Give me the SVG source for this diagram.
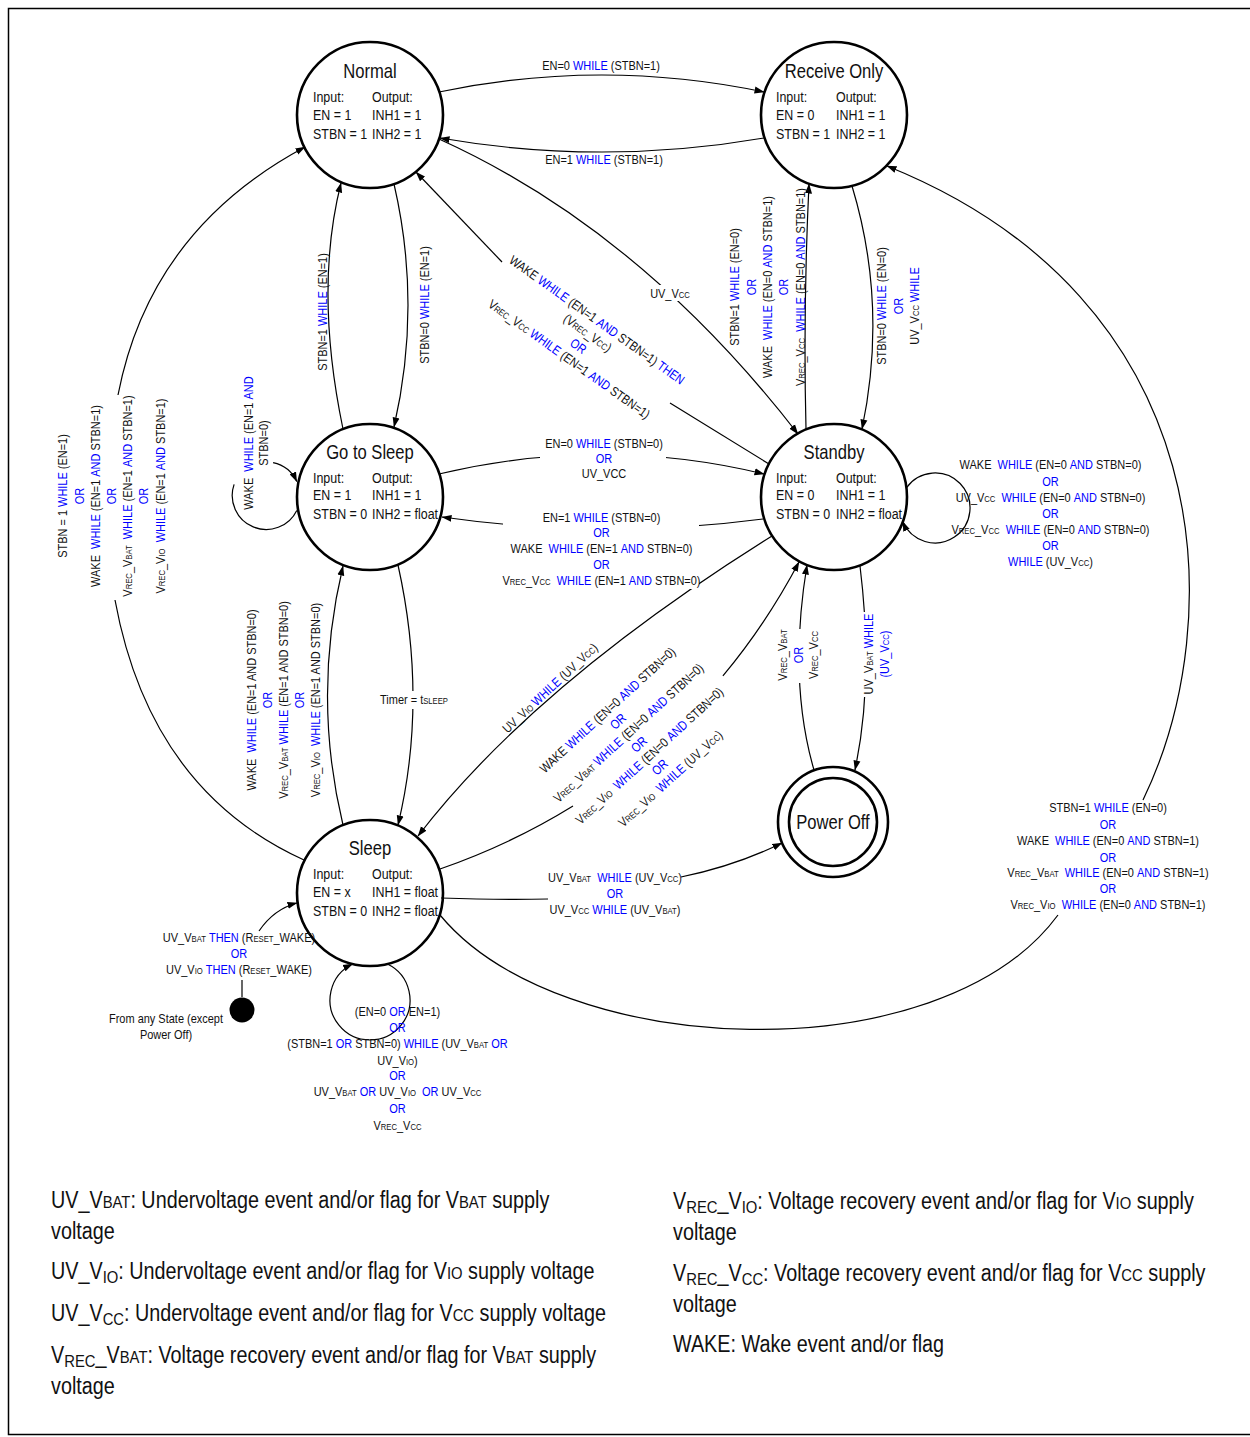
<svg xmlns="http://www.w3.org/2000/svg" width="1250" height="1437" viewBox="0 0 1250 1437">
<style>
text{font-family:"Liberation Sans Narrow","Liberation Sans",Arial,sans-serif;fill:#111}
.l{font-size:13px;text-anchor:middle}
.b{fill:#0000ff}
.s{font-size:0.7em}
.s2{font-size:0.75em}
.n{font-size:15px}
.h{font-size:20px;text-anchor:middle}
.g{font-size:23px}
.st{fill:#fff;stroke:#000;stroke-width:2.6}
.c{fill:none;stroke:#000;stroke-width:1.2}
.w{fill:#fff}
</style>
<defs>
<marker id="a" markerWidth="10" markerHeight="8" refX="9.5" refY="4" orient="auto" markerUnits="userSpaceOnUse"><path d="M0,0.5 L10,4 L0,7.5z" fill="#000"/></marker>
</defs>
<rect x="8.5" y="8.5" width="1300" height="1426" fill="#fff" stroke="#000" stroke-width="1.5"/>

<g id="node-normal">
<circle class="st" cx="370" cy="115" r="73"/>
<text class="h" transform="matrix(.83 0 0 1 370 78)">Normal</text>
<text class="n" transform="matrix(.83 0 0 1 313 102)">Input:</text><text class="n" transform="matrix(.83 0 0 1 372 102)">Output:</text>
<text class="n" transform="matrix(.83 0 0 1 313 120)">EN = 1</text><text class="n" transform="matrix(.83 0 0 1 372 120)">INH1 = 1</text>
<text class="n" transform="matrix(.83 0 0 1 313 139)">STBN = 1</text><text class="n" transform="matrix(.83 0 0 1 372 139)">INH2 = 1</text>
</g>
<g id="node-receive-only">
<circle class="st" cx="834" cy="115" r="73"/>
<text class="h" transform="matrix(.83 0 0 1 834 78)">Receive Only</text>
<text class="n" transform="matrix(.83 0 0 1 776 102)">Input:</text><text class="n" transform="matrix(.83 0 0 1 836 102)">Output:</text>
<text class="n" transform="matrix(.83 0 0 1 776 120)">EN = 0</text><text class="n" transform="matrix(.83 0 0 1 836 120)">INH1 = 1</text>
<text class="n" transform="matrix(.83 0 0 1 776 139)">STBN = 1</text><text class="n" transform="matrix(.83 0 0 1 836 139)">INH2 = 1</text>
</g>
<g id="node-go-to-sleep">
<circle class="st" cx="370" cy="497" r="73"/>
<text class="h" transform="matrix(.83 0 0 1 370 459)">Go to Sleep</text>
<text class="n" transform="matrix(.83 0 0 1 313 483)">Input:</text><text class="n" transform="matrix(.83 0 0 1 372 483)">Output:</text>
<text class="n" transform="matrix(.83 0 0 1 313 500)">EN = 1</text><text class="n" transform="matrix(.83 0 0 1 372 500)">INH1 = 1</text>
<text class="n" transform="matrix(.83 0 0 1 313 519)">STBN = 0</text><text class="n" transform="matrix(.83 0 0 1 372 519)">INH2 = float</text>
</g>
<g id="node-standby">
<circle class="st" cx="834" cy="497" r="73"/>
<text class="h" transform="matrix(.83 0 0 1 834 459)">Standby</text>
<text class="n" transform="matrix(.83 0 0 1 776 483)">Input:</text><text class="n" transform="matrix(.83 0 0 1 836 483)">Output:</text>
<text class="n" transform="matrix(.83 0 0 1 776 500)">EN = 0</text><text class="n" transform="matrix(.83 0 0 1 836 500)">INH1 = 1</text>
<text class="n" transform="matrix(.83 0 0 1 776 519)">STBN = 0</text><text class="n" transform="matrix(.83 0 0 1 836 519)">INH2 = float</text>
</g>
<g id="node-sleep">
<circle class="st" cx="370" cy="893" r="73"/>
<text class="h" transform="matrix(.83 0 0 1 370 855)">Sleep</text>
<text class="n" transform="matrix(.83 0 0 1 313 879)">Input:</text><text class="n" transform="matrix(.83 0 0 1 372 879)">Output:</text>
<text class="n" transform="matrix(.83 0 0 1 313 897)">EN = x</text><text class="n" transform="matrix(.83 0 0 1 372 897)">INH1 = float</text>
<text class="n" transform="matrix(.83 0 0 1 313 916)">STBN = 0</text><text class="n" transform="matrix(.83 0 0 1 372 916)">INH2 = float</text>
</g>
<g id="node-power-off">
<circle class="st" cx="833" cy="822" r="55"/>
<circle class="st" cx="833" cy="822" r="44"/>
<text class="h" transform="matrix(.83 0 0 1 833 829)">Power Off</text>
</g>
<g id="node-initial">
<circle cx="242" cy="1010" r="12.5" fill="#000"/>
<text class="l" transform="matrix(.845 0 0 1 166 1022.5)">From any State (except</text>
<text class="l" transform="matrix(.845 0 0 1 166 1038.5)">Power Off)</text>
</g>

<g id="connectors" class="c">
<path d="M439,92 Q602,58 764,92" marker-end="url(#a)"/>
<path d="M764,138 Q602,166 440,138" marker-end="url(#a)"/>
<path d="M343,429 Q314,290 341,183" marker-end="url(#a)"/>
<path d="M394,184 Q422,305 394,427" marker-end="url(#a)"/>
<path d="M769,464 L670,403"/>
<path d="M502,262 L416,172" marker-end="url(#a)"/>
<path d="M439,139 Q640,230 798,434" marker-end="url(#a)"/>
<path d="M806,429 Q803,310 809,184" marker-end="url(#a)"/>
<path d="M852,186 Q888,305 862,429" marker-end="url(#a)"/>
<path d="M439,474 Q603,435 764,474" marker-end="url(#a)"/>
<path d="M763,519 Q603,540 442,517" marker-end="url(#a)"/>
<path d="M304,860 Q150,790 115,600"/>
<path d="M118,395 Q150,230 305,147" marker-end="url(#a)"/>
<path d="M440,915 C560,1060 940,1075 1058,915"/>
<path d="M1143,800 C1230,620 1220,300 887,166" marker-end="url(#a)"/>
<path d="M343,825 Q312,696 343,566" marker-end="url(#a)"/>
<path d="M398,565 Q428,700 398,825" marker-end="url(#a)"/>
<path d="M772,536 Q535,684 418,836" marker-end="url(#a)"/>
<path d="M440,869 Q512,843.8 573,806"/>
<path d="M722.9,675.9 Q766.4,623.7 799,562" marker-end="url(#a)"/>
<path d="M860,566 Q874,680 855,770" marker-end="url(#a)"/>
<path d="M814,770 Q788,680 807,565" marker-end="url(#a)"/>
<path d="M441,898 Q500,900 548,899"/>
<path d="M681,877 Q735,866 782,843" marker-end="url(#a)"/>
<path d="M296.8,510.4 A34,34 0 0 1 234.1,484.4"/>
<path d="M273.1,462.7 A34,34 0 0 1 296.8,481.6" marker-end="url(#a)"/>
<path d="M906.4,487.8 A35,35 0 1 1 902.8,521.6" marker-end="url(#a)"/>
<path d="M387.4,964 A40,40 0 1 1 352.6,964" marker-end="url(#a)"/>
<path d="M259,931 Q274,909 297,903" marker-end="url(#a)"/>
<path d="M242,997 L242,980"/>
</g>

<g id="labels">
<text class="l" transform="matrix(.845 0 0 1 601 70)">EN=0 <tspan class="b">WHILE</tspan> (STBN=1)</text>
<text class="l" transform="matrix(.845 0 0 1 604 164)">EN=1 <tspan class="b">WHILE</tspan> (STBN=1)</text>
<g transform="translate(322,312) rotate(-90) scale(.845,1)"><text class="l" y="4.5">STBN=1 <tspan class="b">WHILE</tspan> (EN=1)</text></g>
<g transform="translate(424,305) rotate(-90) scale(.845,1)"><text class="l" y="4.5">STBN=0 <tspan class="b">WHILE</tspan> (EN=1)</text></g>
<g transform="translate(597,320) rotate(35.5) scale(.845,1)">
<text class="l" y="4.5">WAKE <tspan class="b">WHILE</tspan> (EN=1 <tspan class="b">AND</tspan> STBN=1) <tspan class="b">THEN</tspan></text>
<text class="l" y="20.5">(V<tspan class="s">REC</tspan>_V<tspan class="s">CC</tspan>)</text>
<text class="l b" y="36.5">OR</text>
<text class="l" y="52.5">V<tspan class="s">REC</tspan>_V<tspan class="s">CC</tspan> <tspan class="b">WHILE</tspan> (EN=1 <tspan class="b">AND</tspan> STBN=1)</text>
</g>
<rect class="w" x="652" y="285" width="37" height="16"/>
<text class="l" transform="matrix(.845 0 0 1 670 297.5)">UV_V<tspan class="s">CC</tspan></text>
<g transform="translate(767.5,287) rotate(-90) scale(.845,1)">
<text class="l" y="-28.1">STBN=1 <tspan class="b">WHILE</tspan> (EN=0)</text>
<text class="l b" y="-11.8">OR</text>
<text class="l" y="4.5">WAKE&#160; <tspan class="b">WHILE</tspan> (EN=0 <tspan class="b">AND</tspan> STBN=1)</text>
<text class="l b" y="20.8">OR</text>
<text class="l" y="37.1">V<tspan class="s">REC</tspan>_V<tspan class="s">CC</tspan>&#160; <tspan class="b">WHILE</tspan> (EN=0 <tspan class="b">AND</tspan> STBN=1)</text>
</g>
<g transform="translate(898,306) rotate(-90) scale(.845,1)">
<text class="l" y="-12">STBN=0 <tspan class="b">WHILE</tspan> (EN=0)</text>
<text class="l b" y="4.5">OR</text>
<text class="l" y="21">UV_V<tspan class="s">CC</tspan> <tspan class="b">WHILE</tspan></text>
</g>
<rect class="w" x="540" y="434" width="126" height="48"/>
<text class="l" transform="matrix(.845 0 0 1 604 447.5)">EN=0 <tspan class="b">WHILE</tspan> (STBN=0)</text>
<text class="l b" transform="matrix(.845 0 0 1 604 462.5)">OR</text>
<text class="l" transform="matrix(.845 0 0 1 604 477.5)">UV_VCC</text>
<rect class="w" x="503" y="508" width="196" height="81"/>
<text class="l" transform="matrix(.845 0 0 1 601.5 521.5)">EN=1 <tspan class="b">WHILE</tspan> (STBN=0)</text>
<text class="l b" transform="matrix(.845 0 0 1 601.5 536.5)">OR</text>
<text class="l" transform="matrix(.845 0 0 1 601.5 552.5)">WAKE&#160; <tspan class="b">WHILE</tspan> (EN=1 <tspan class="b">AND</tspan> STBN=0)</text>
<text class="l b" transform="matrix(.845 0 0 1 601.5 568.5)">OR</text>
<text class="l" transform="matrix(.845 0 0 1 601.5 584.5)">V<tspan class="s">REC</tspan>_V<tspan class="s">CC</tspan>&#160; <tspan class="b">WHILE</tspan> (EN=1 <tspan class="b">AND</tspan> STBN=0)</text>
<text class="l" transform="matrix(.845 0 0 1 1050.5 469)">WAKE&#160; <tspan class="b">WHILE</tspan> (EN=0 <tspan class="b">AND</tspan> STBN=0)</text>
<text class="l b" transform="matrix(.845 0 0 1 1050.5 485.5)">OR</text>
<text class="l" transform="matrix(.845 0 0 1 1050.5 502)">UV_V<tspan class="s">CC</tspan>&#160; <tspan class="b">WHILE</tspan> (EN=0 <tspan class="b">AND</tspan> STBN=0)</text>
<text class="l b" transform="matrix(.845 0 0 1 1050.5 517.5)">OR</text>
<text class="l" transform="matrix(.845 0 0 1 1050.5 533.5)">V<tspan class="s">REC</tspan>_V<tspan class="s">CC</tspan>&#160; <tspan class="b">WHILE</tspan> (EN=0 <tspan class="b">AND</tspan> STBN=0)</text>
<text class="l b" transform="matrix(.845 0 0 1 1050.5 549.5)">OR</text>
<text class="l" transform="matrix(.845 0 0 1 1050.5 565.5)"><tspan class="b">WHILE</tspan> (UV_V<tspan class="s">CC</tspan>)</text>
<g transform="translate(111.5,496) rotate(-90) scale(.845,1)">
<text class="l" y="-44.1">STBN = 1 <tspan class="b">WHILE</tspan> (EN=1)</text>
<text class="l b" y="-27.9">OR</text>
<text class="l" y="-11.7">WAKE&#160; <tspan class="b">WHILE</tspan> (EN=1 <tspan class="b">AND</tspan> STBN=1)</text>
<text class="l b" y="4.5">OR</text>
<text class="l" y="20.7">V<tspan class="s">REC</tspan>_V<tspan class="s">BAT</tspan>&#160; <tspan class="b">WHILE</tspan> (EN=1 <tspan class="b">AND</tspan> STBN=1)</text>
<text class="l b" y="36.9">OR</text>
<text class="l" y="53.1">V<tspan class="s">REC</tspan>_V<tspan class="s">IO</tspan>&#160; <tspan class="b">WHILE</tspan> (EN=1 <tspan class="b">AND</tspan> STBN=1)</text>
</g>
<g transform="translate(256,443) rotate(-90) scale(.845,1)">
<text class="l" y="-3.25">WAKE&#160; <tspan class="b">WHILE</tspan> (EN=1 <tspan class="b">AND</tspan></text>
<text class="l" y="12.25">STBN=0)</text>
</g>
<g transform="translate(283.5,700) rotate(-90) scale(.845,1)">
<text class="l" y="-28">WAKE&#160; <tspan class="b">WHILE</tspan> (EN=1 AND STBN=0)</text>
<text class="l b" y="-11.75">OR</text>
<text class="l" y="4.5">V<tspan class="s">REC</tspan>_V<tspan class="s">BAT</tspan> <tspan class="b">WHILE</tspan> (EN=1 AND STBN=0)</text>
<text class="l b" y="20.75">OR</text>
<text class="l" y="37">V<tspan class="s">REC</tspan>_V<tspan class="s">IO</tspan>&#160; <tspan class="b">WHILE</tspan> (EN=1 AND STBN=0)</text>
</g>
<rect class="w" x="380" y="691" width="68" height="18"/>
<text class="l" transform="matrix(.845 0 0 1 414 704)">Timer = t<tspan class="s">SLEEP</tspan></text>
<g transform="translate(550,688) rotate(-43) scale(.845,1)">
<text class="l" y="4.5">UV_V<tspan class="s">IO</tspan> <tspan class="b">WHILE</tspan> (UV_V<tspan class="s">CC</tspan>)</text>
</g>
<g transform="translate(607.5,710) rotate(-42.5) scale(.845,1)">
<text class="l" y="4.5">WAKE <tspan class="b">WHILE</tspan> (EN=0 <tspan class="b">AND</tspan> STBN=0)</text>
<text class="l b" y="20">OR</text>
<text class="l" y="35.5">V<tspan class="s">REC</tspan>_V<tspan class="s">BAT</tspan> <tspan class="b">WHILE</tspan> (EN=0 <tspan class="b">AND</tspan> STBN=0)</text>
<text class="l b" y="51">OR</text>
<text class="l" y="66.5">V<tspan class="s">REC</tspan>_V<tspan class="s">IO</tspan>&#160; <tspan class="b">WHILE</tspan> (EN=0 <tspan class="b">AND</tspan> STBN=0)</text>
<text class="l b" y="82">OR</text>
<text class="l" y="97.5">V<tspan class="s">REC</tspan>_V<tspan class="s">IO</tspan>&#160; <tspan class="b">WHILE</tspan> (UV_V<tspan class="s">CC</tspan>)</text>
</g>
<rect class="w" x="859" y="612" width="34" height="85"/>
<g transform="translate(876.5,654) rotate(-90) scale(.845,1)">
<text class="l" y="-4">UV_V<tspan class="s">BAT</tspan> <tspan class="b">WHILE</tspan></text>
<text class="l b" y="13">(UV_V<tspan class="s">CC</tspan>)</text>
</g>
<rect class="w" x="775" y="629" width="47" height="54"/>
<g transform="translate(798,655) rotate(-90) scale(.845,1)">
<text class="l" y="-11.5">V<tspan class="s">REC</tspan>_V<tspan class="s">BAT</tspan></text>
<text class="l b" y="4.5">OR</text>
<text class="l" y="20.5">V<tspan class="s">REC</tspan>_V<tspan class="s">CC</tspan></text>
</g>
<text class="l" transform="matrix(.845 0 0 1 1108 812)">STBN=1 <tspan class="b">WHILE</tspan> (EN=0)</text>
<text class="l b" transform="matrix(.845 0 0 1 1108 828.5)">OR</text>
<text class="l" transform="matrix(.845 0 0 1 1108 845)">WAKE&#160; <tspan class="b">WHILE</tspan> (EN=0 <tspan class="b">AND</tspan> STBN=1)</text>
<text class="l b" transform="matrix(.845 0 0 1 1108 861.5)">OR</text>
<text class="l" transform="matrix(.845 0 0 1 1108 877)">V<tspan class="s">REC</tspan>_V<tspan class="s">BAT</tspan>&#160; <tspan class="b">WHILE</tspan> (EN=0 <tspan class="b">AND</tspan> STBN=1)</text>
<text class="l b" transform="matrix(.845 0 0 1 1108 893)">OR</text>
<text class="l" transform="matrix(.845 0 0 1 1108 908.5)">V<tspan class="s">REC</tspan>_V<tspan class="s">IO</tspan>&#160; <tspan class="b">WHILE</tspan> (EN=0 <tspan class="b">AND</tspan> STBN=1)</text>
<text class="l" transform="matrix(.845 0 0 1 615 881.5)">UV_V<tspan class="s">BAT</tspan>&#160; <tspan class="b">WHILE</tspan> (UV_V<tspan class="s">CC</tspan>)</text>
<text class="l b" transform="matrix(.845 0 0 1 615 897.5)">OR</text>
<text class="l" transform="matrix(.845 0 0 1 615 913.5)">UV_V<tspan class="s">CC</tspan> <tspan class="b">WHILE</tspan> (UV_V<tspan class="s">BAT</tspan>)</text>
<text class="l" transform="matrix(.845 0 0 1 239 941.5)">UV_V<tspan class="s">BAT</tspan> <tspan class="b">THEN</tspan> (R<tspan class="s">ESET</tspan>_WAKE)</text>
<text class="l b" transform="matrix(.845 0 0 1 239 957.5)">OR</text>
<text class="l" transform="matrix(.845 0 0 1 239 973.5)">UV_V<tspan class="s">IO</tspan> <tspan class="b">THEN</tspan> (R<tspan class="s">ESET</tspan>_WAKE)</text>
<text class="l" transform="matrix(.845 0 0 1 397.5 1015.5)">(EN=0 <tspan class="b">OR</tspan> EN=1)</text>
<text class="l b" transform="matrix(.845 0 0 1 397.5 1031.8)">OR</text>
<text class="l" transform="matrix(.845 0 0 1 397.5 1047.8)">(STBN=1 <tspan class="b">OR</tspan> STBN=0) <tspan class="b">WHILE</tspan> (UV_V<tspan class="s">BAT</tspan> <tspan class="b">OR</tspan></text>
<text class="l" transform="matrix(.845 0 0 1 397.5 1064.5)">UV_V<tspan class="s">IO</tspan>)</text>
<text class="l b" transform="matrix(.845 0 0 1 397.5 1079.8)">OR</text>
<text class="l" transform="matrix(.845 0 0 1 397.5 1096.2)">UV_V<tspan class="s">BAT</tspan> <tspan class="b">OR</tspan> UV_V<tspan class="s">IO</tspan>&#160; <tspan class="b">OR</tspan> UV_V<tspan class="s">CC</tspan></text>
<text class="l b" transform="matrix(.845 0 0 1 397.5 1112.8)">OR</text>
<text class="l" transform="matrix(.845 0 0 1 397.5 1129.5)">V<tspan class="s">REC</tspan>_V<tspan class="s">CC</tspan></text>
</g>

<g id="legend" class="g">
<text transform="matrix(.86 0 0 1 51 1208)">UV_V<tspan class="s2">BAT</tspan>: Undervoltage event and/or flag for V<tspan class="s2">BAT</tspan> supply</text>
<text transform="matrix(.86 0 0 1 51 1239)">voltage</text>
<text transform="matrix(.86 0 0 1 51 1279)">UV_V<tspan class="s2" dy="4">IO</tspan><tspan dy="-4">: Undervoltage event and/or flag for V</tspan><tspan class="s2">IO</tspan> supply voltage</text>
<text transform="matrix(.86 0 0 1 51 1321)">UV_V<tspan class="s2" dy="4">CC</tspan><tspan dy="-4">: Undervoltage event and/or flag for V</tspan><tspan class="s2">CC</tspan> supply voltage</text>
<text transform="matrix(.86 0 0 1 51 1363)">V<tspan class="s2" dy="4">REC</tspan><tspan dy="-4">_V</tspan><tspan class="s2">BAT</tspan>: Voltage recovery event and/or flag for V<tspan class="s2">BAT</tspan> supply</text>
<text transform="matrix(.86 0 0 1 51 1394)">voltage</text>
<text transform="matrix(.86 0 0 1 673 1209)">V<tspan class="s2" dy="4">REC</tspan><tspan dy="-4">_V</tspan><tspan class="s2" dy="4">IO</tspan><tspan dy="-4">: Voltage recovery event and/or flag for V</tspan><tspan class="s2">IO</tspan> supply</text>
<text transform="matrix(.86 0 0 1 673 1240)">voltage</text>
<text transform="matrix(.86 0 0 1 673 1281)">V<tspan class="s2" dy="4">REC</tspan><tspan dy="-4">_V</tspan><tspan class="s2" dy="4">CC</tspan><tspan dy="-4">: Voltage recovery event and/or flag for V</tspan><tspan class="s2">CC</tspan> supply</text>
<text transform="matrix(.86 0 0 1 673 1312)">voltage</text>
<text transform="matrix(.86 0 0 1 673 1352)">WAKE: Wake event and/or flag</text>
</g>
</svg>
